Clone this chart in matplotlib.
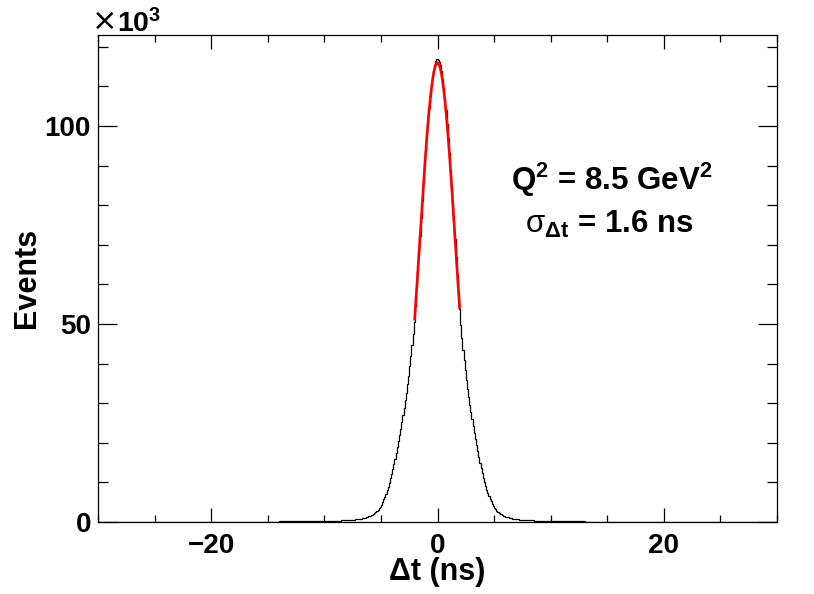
import numpy as np
import matplotlib
matplotlib.use("Agg")
import matplotlib.pyplot as plt
from matplotlib.ticker import MultipleLocator, FuncFormatter

plt.rcParams['font.family'] = ['Liberation Sans', 'DejaVu Sans']
plt.rcParams['mathtext.fontset'] = 'custom'
plt.rcParams['mathtext.rm'] = 'Liberation Sans'
plt.rcParams['mathtext.bf'] = 'Liberation Sans:bold'
plt.rcParams['mathtext.it'] = 'Liberation Sans:italic'

# bin contents in thousands of events
# far tails: 1 ns bins (-30..-12, 12..30)
far_left = [0.015, 0.017, 0.019, 0.021, 0.024, 0.027, 0.030, 0.035, 0.040,
            0.045, 0.050, 0.060, 0.070, 0.080, 0.095, 0.110, 0.130, 0.150]
far_right = [0.145, 0.125, 0.105, 0.090, 0.078, 0.067, 0.058, 0.050, 0.044,
             0.039, 0.034, 0.030, 0.027, 0.024, 0.021, 0.019, 0.017, 0.015]
# near tails: 0.5 ns bins (-12..-8, 8..12)
mid_left = [0.18, 0.20, 0.23, 0.26, 0.29, 0.33, 0.37, 0.42]
mid_right = [0.40, 0.35, 0.31, 0.28, 0.25, 0.22, 0.19, 0.17]
# core: 0.1 ns bins, -8..0 and 0..8
core_left = [0.46, 0.48, 0.50, 0.53, 0.56, 0.59, 0.62, 0.65, 0.69, 0.73,
             0.77, 0.82, 0.87, 0.92, 0.98, 1.05, 1.13, 1.22, 1.32, 1.42,
             1.55, 1.70, 1.85, 2.05, 2.25, 2.50, 2.80, 3.10, 3.50, 3.90,
             4.40, 5.00, 5.70, 6.40, 7.10, 8.00, 8.90, 9.90, 11.0, 12.2,
             13.4, 14.7, 16.0, 17.5, 19.0, 20.5, 22.0, 23.6, 25.3, 27.0,
             28.8, 30.7, 32.7, 34.8, 37.0, 39.4, 41.9, 44.6, 47.5, 50.5,
             54.6, 59.1, 63.4, 67.9, 72.3, 76.7, 81.2, 85.6, 89.8, 93.8,
             97.7, 101.2, 104.5, 107.5, 110.1, 112.3, 114.2, 115.5, 116.5, 116.9]
core_right = [116.8, 116.3, 115.3, 113.9, 112.0, 109.7, 107.0, 104.0, 100.6, 97.0,
              93.1, 89.0, 84.8, 80.4, 75.9, 71.4, 67.0, 62.5, 58.2, 53.8,
              49.7, 46.4, 43.5, 40.8, 38.3, 35.9, 33.7, 31.6, 29.6, 27.7,
              25.9, 24.2, 22.5, 20.9, 19.4, 17.9, 16.4, 15.0, 13.7, 12.4,
              11.2, 10.1, 9.10, 8.20, 7.30, 6.50, 5.80, 5.20, 4.60, 4.00,
              3.60, 3.20, 2.85, 2.55, 2.30, 2.08, 1.90, 1.73, 1.58, 1.45,
              1.34, 1.24, 1.15, 1.07, 1.00, 0.93, 0.87, 0.82, 0.77, 0.73,
              0.69, 0.65, 0.62, 0.59, 0.56, 0.53, 0.50, 0.48, 0.46, 0.44]

# gaussian fit (thousands, ns)
fit_amp = 116.0
fit_mean = 0.0
fit_sigma = 1.58
fit_lo, fit_hi = -2.02, 1.95

counts = np.array(far_left + mid_left + core_left + core_right + mid_right + far_right) * 1000.0
edges = np.concatenate([np.arange(-30, -12, 1.0),
                        np.arange(-12, -8, 0.5),
                        np.linspace(-8, 8, 161),
                        np.arange(8.5, 12.01, 0.5),
                        np.arange(13, 30.01, 1.0)])
assert len(edges) == len(counts) + 1

fig = plt.figure(figsize=(8.14, 5.94), dpi=100)
ax = fig.add_axes([98 / 814, 1 - 522 / 594, (777 - 98) / 814, (522 - 35) / 594])

ax.stairs(counts, edges, color='black', lw=0.9)

xf = np.linspace(fit_lo, fit_hi, 200)
yf = fit_amp * 1000.0 * np.exp(-0.5 * ((xf - fit_mean) / fit_sigma) ** 2)
ax.plot(xf, yf, color='#ff0000', lw=1.9)

ax.set_xlim(-30, 30)
ax.set_ylim(0, 123000)

ax.xaxis.set_major_locator(MultipleLocator(20))
ax.xaxis.set_minor_locator(MultipleLocator(5))
ax.yaxis.set_major_locator(MultipleLocator(50000))
ax.yaxis.set_minor_locator(MultipleLocator(10000))
ax.yaxis.set_major_formatter(FuncFormatter(lambda v, p: '%d' % round(v / 1000)))
ax.xaxis.set_major_formatter(FuncFormatter(lambda v, p: ('\u2212%d' % -v) if v < 0 else '%d' % v))

ax.tick_params(axis='both', which='both', direction='in', top=True, right=True,
               labelsize=20, width=0.9)
ax.tick_params(axis='x', which='major', length=10, pad=8)
ax.tick_params(axis='x', which='minor', length=5)
ax.tick_params(axis='y', which='major', length=13.5, pad=5)
ax.tick_params(axis='y', which='minor', length=7)
for lab in ax.get_xticklabels() + ax.get_yticklabels():
    lab.set_fontweight('bold')
for s in ax.spines.values():
    s.set_linewidth(0.9)

fig.text(437.5 / 814, 1 - 572 / 594, '\u0394t (ns)', ha='center', va='center',
         fontsize=22, fontweight='bold')
fig.text(27 / 814, 1 - 278 / 594, 'Events', ha='center', va='center',
         rotation=90, fontsize=22, fontweight='bold')
# multiplier: cross, then 10^3
fig.text(92 / 814, 1 - 30 / 594, '\u00d7', ha='left', va='baseline',
         fontsize=22, family=['DejaVu Sans'])
fig.text(117 / 814, 1 - 32 / 594, '10$^{\\mathbf{3}}$', ha='left', va='baseline',
         fontsize=20.5, fontweight='bold')

fig.text(612 / 814, 1 - 190 / 594, r'Q$^{\mathbf{2}}$ = 8.5 GeV$^{\mathbf{2}}$',
         ha='center', va='baseline', fontsize=22.5, fontweight='bold')
fig.text(609 / 814, 1 - 233 / 594, r'$\mathrm{\sigma}_{\mathbf{\Delta t}}$ = 1.6 ns',
         ha='center', va='baseline', fontsize=22.5, fontweight='bold')

fig.savefig('out.png', dpi=100)
